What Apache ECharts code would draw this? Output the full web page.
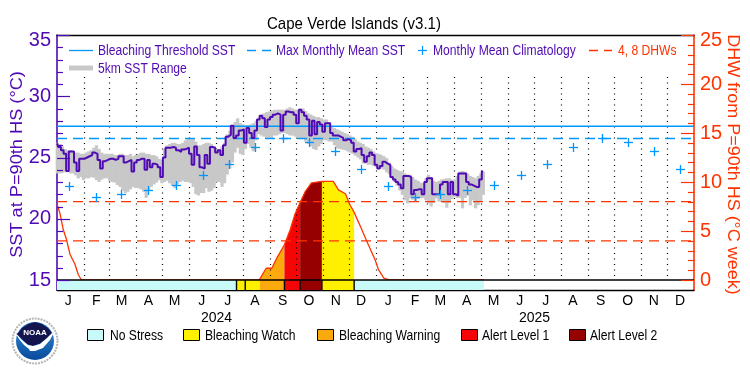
<!DOCTYPE html>
<html><head><meta charset="utf-8">
<style>html,body{margin:0;padding:0;background:#fff}#c{width:750px;height:375px}</style>
<script src="https://cdn.jsdelivr.net/npm/echarts@6/dist/echarts.min.js"></script>
</head><body><div id="c"></div>
<script>
var FONT = '"Liberation Sans",sans-serif';
var PURPLE='#4f0ab4', BLUE='#0096ff', RED='#ff3300', GREY='#c8c8c8';
var titleText='Cape Verde Islands (v3.1)';
var leftTitle='SST at P=90th HS (°C)', rightTitle='DHW from P=90th HS (°C week)';
var monthLetters=['J','F','M','A','M','J','J','A','S','O','N','D','J','F','M','A','M','J','J','A','S','O','N','D'];
var monthMidDays=[13,45,74,105,135,166,196,227,259,289,320,349,380,411,440,470,501,531,561,592,624,655,685,715];
var monthStartDays=[31,60,91,121,152,182,213,244,274,305,335,366,397,425,456,486,517,547,578,609,639,670,700];
var yearLabels=['2024','2025'], yearDays=[183,548];
var sstTicks=[15,20,25,30,35], dhwTicks=[0,5,10,15,20,25];
var sstMinor=[16,17,18,19,21,22,23,24,26,27,28,29,31,32,33,34];
var dhwMinor=[1,2,3,4,6,7,8,9,11,12,13,14,16,17,18,19,21,22,23,24];
var SST_STEP_DAYS=3;
var sstValues=[26.15,25.85,25.6,25.3,23.9,25.5,25.5,24.6,23.9,24.9,24.9,25.0,25.1,25.2,25.4,25.3,24.8,24.1,24.7,24.8,24.9,24.9,24.8,24.9,25.1,25.1,24.6,24.7,24.8,23.85,24.6,24.8,24.9,24.9,24.0,24.8,24.2,24.5,24.4,24.2,23.4,25.0,25.8,25.8,25.85,25.8,25.6,25.45,25.65,25.7,25.8,25.3,24.4,25.9,25.2,24.2,24.1,25.2,24.5,25.85,25.8,25.4,25.6,25.2,26.0,26.7,26.85,27.6,26.6,26.8,27.2,27.3,26.2,27.4,27.0,26.6,27.2,28.1,28.4,28.2,27.5,28.1,28.3,28.5,28.6,28.5,27.2,28.5,28.75,28.7,28.7,28.5,27.8,28.9,28.7,28.4,28.1,26.8,28.0,26.9,27.9,27.7,27.1,27.8,27.8,27.0,26.8,26.8,26.7,26.6,26.4,26.5,26.4,26.2,25.5,25.7,25.75,25.2,24.65,25.1,25.4,25.2,24.4,24.1,24.3,24.65,24.5,24.4,23.4,23.2,23.0,22.8,22.5,23.5,23.5,23.4,22.0,22.35,22.4,22.4,22.0,23.0,23.3,23.3,22.0,22.0,22.0,22.8,23.0,23.0,22.0,23.0,22.0,21.9,23.7,23.7,23.7,23.0,22.8,22.7,22.6,22.6,23.2,23.85];
var rangeHigh=[26.2,26.1,25.9,25.7,25.6,25.6,25.5,25.4,25.4,25.3,25.3,25.4,25.5,25.6,25.8,26.0,25.7,25.4,25.3,25.3,25.3,25.3,25.2,25.2,25.3,25.3,25.2,25.2,25.3,25.1,25.2,25.3,25.4,25.4,25.3,25.3,25.2,25.2,25.1,24.9,24.8,25.7,26.0,26.1,26.2,26.2,26.1,26.1,26.2,26.4,26.5,26.5,26.56,26.3,26.0,26.0,26.1,26.2,26.2,26.1,25.9,25.7,25.7,25.9,26.2,26.9,27.2,27.5,27.9,28.2,27.8,27.7,27.6,27.65,27.7,27.8,28.0,28.2,28.5,28.6,28.7,28.75,28.8,28.9,28.9,28.9,28.9,28.9,29.0,29.1,29.0,28.9,28.9,29.0,29.0,28.8,28.6,28.5,28.4,28.3,28.3,28.2,28.1,28.1,27.9,27.5,27.4,27.3,27.2,27.1,27.0,26.9,26.8,26.7,26.5,26.3,26.2,26.1,25.9,25.8,25.7,25.5,25.35,25.3,25.2,25.1,24.95,24.6,24.3,24.1,24.0,23.9,23.85,23.7,23.6,23.6,23.4,23.2,23.1,22.95,22.9,23.3,23.6,23.4,23.1,23.0,23.1,23.2,23.25,23.3,23.3,23.2,23.2,23.5,23.85,23.9,23.85,23.7,23.5,23.4,23.3,23.5,23.7,23.85];
var rangeLow=[23.7,23.7,23.75,23.8,23.85,23.7,23.7,23.55,23.3,23.4,23.15,23.3,23.3,23.4,23.35,23.15,23.0,23.2,23.3,23.3,23.1,23.0,22.95,22.75,22.6,22.3,22.1,22.2,22.4,22.6,22.5,22.5,22.4,22.2,21.7,22.3,22.6,22.8,22.95,23.15,22.9,23.0,23.1,22.9,22.7,22.5,22.8,23.0,23.1,23.0,23.0,22.9,22.6,22.0,21.9,22.1,22.1,22.5,22.2,22.3,22.5,23.0,23.0,22.6,22.9,23.6,24.1,24.6,25.4,25.8,25.3,25.2,25.7,26.1,25.8,25.5,26.4,26.9,26.8,26.7,26.6,26.6,26.6,26.8,26.8,26.9,27.0,27.0,26.9,26.8,26.8,26.7,26.6,26.6,26.5,26.3,26.1,25.9,25.7,25.6,25.9,26.1,26.4,26.4,26.3,26.3,26.0,25.75,25.7,25.65,25.6,25.5,25.4,25.3,25.15,25.0,24.85,24.5,24.5,24.4,24.4,24.3,24.2,24.1,24.1,24.0,23.8,23.65,23.3,23.0,22.7,22.3,21.95,21.5,21.25,21.66,21.55,21.4,21.6,21.66,21.7,21.5,21.26,21.0,21.3,21.66,21.4,21.4,21.3,20.9,21.3,21.6,21.8,21.7,21.7,20.85,21.7,21.9,21.1,21.5,20.85,21.1,21.4,21.95];
var climDays=[14,45,74,105,136,167,197,227,259,289,319,349,380,411,440,470,501,532,562,592,625,655,685,715];
var climValues=[22.65,21.8,22.0,22.35,22.73,23.55,24.44,25.86,26.56,26.3,25.56,24.1,22.65,21.8,22.0,22.35,22.73,23.55,24.44,25.86,26.56,26.3,25.56,24.1];
var bleachingThreshold=27.55, maxMonthlyMean=26.55, dhwLevels=[4,8];
var dhwDays=[0,3.4,7.3,11,15,20.6,24.5,28,232,233,240,246.5,252,261,267.5,273,279,285,292,304,317,323,331,336,341,350,355.5,365,369,375,382,490];
var dhwValues=[7.75,6.8,5.1,4.1,2.6,1.6,0.54,0,0,0.2,1.2,1.2,2.2,3.6,5.1,6.7,7.9,9.05,9.9,10.07,10.07,9.2,8.8,7.7,6.9,5.1,3.95,2.07,1.05,0.2,0,0];
var stressStart=[0,206,216,233,261,279,304,341];
var stressEnd=[206,216,233,261,279,304,341,490];
var stressLevel=[0,1,1,2,3,4,1,0];
var stressDividers=[206,216,261,279,304,341];
var levelNames=['No Stress','Bleaching Watch','Bleaching Warning','Alert Level 1','Alert Level 2'];
var levelColors=['#c8fafa','#fff000','#fba90d','#f50505','#960000'];
var areaSpans=[[233,261,2],[261,279,3],[279,304,4],[304,341,1]];
var X_MAX=731, SST_MIN=14.184, DHW_MIN=-1.02;

function zip(a,b){return a.map(function(v,i){return [v,b[i]];});}
var sstData=sstValues.map(function(v,i){return [i*SST_STEP_DAYS,v];});
var rangeData=rangeHigh.map(function(h,i){return [i*SST_STEP_DAYS,rangeLow[i],h];});
var dhwData=zip(dhwDays,dhwValues);

function hline(v,color,width,dash,yi,z){return {type:'line',xAxisIndex:0,yAxisIndex:yi,data:[[0,v],[X_MAX,v]],symbol:'none',silent:true,z:z,lineStyle:{color:color,width:width,type:dash}};}
function ticks(vals,yi,xEnd,dir,color,len){return {type:'custom',xAxisIndex:0,yAxisIndex:yi,z:10,silent:true,data:vals.map(function(v){return [xEnd,v];}),
  renderItem:function(p,api){var c=api.coord([api.value(0),api.value(1)]);var y=Math.round(c[1])+0.5;
    return {type:'line',shape:{x1:c[0],y1:y,x2:c[0]+dir*len,y2:y},style:{stroke:color,lineWidth:1.2}};},encode:{x:0,y:1},clip:false};}
var series=[];
areaSpans.forEach(function(s){
  series.push({type:'line',xAxisIndex:0,yAxisIndex:1,z:1,symbol:'none',silent:true,lineStyle:{width:0},
    areaStyle:{color:levelColors[s[2]],opacity:1},
    data:dhwData.filter(function(d){return d[0]>=s[0]&&d[0]<=s[1];})});
});
series.push({type:'custom',xAxisIndex:0,yAxisIndex:0,z:2,silent:true,data:monthStartDays.map(function(d){return [d];}),
  renderItem:function(p,api){var x=Math.round(api.coord([api.value(0),15])[0])+0.5;
    return {type:'line',shape:{x1:x,y1:api.coord([0,31.57])[1],x2:x,y2:api.coord([0,15])[1]},style:{stroke:'#000',lineWidth:1.2,lineDash:[1,4.5]}};},
  encode:{x:0}});
series.push({type:'custom',xAxisIndex:0,yAxisIndex:0,z:3,silent:true,data:rangeData,
  renderItem:function(p,api){var d=api.value(0);
    var a=api.coord([d-1.5,api.value(2)]),b=api.coord([d+1.5,api.value(1)]);
    return {type:'rect',shape:{x:a[0],y:a[1],width:b[0]-a[0]+0.6,height:b[1]-a[1]},style:{fill:GREY}};},
  encode:{x:0,y:[1,2]}});
series.push(hline(bleachingThreshold,BLUE,1.6,'solid',0,4));
series.push(hline(maxMonthlyMean,BLUE,1.3,[10,6],0,4));
dhwLevels.forEach(function(v){series.push(hline(v,RED,1.3,[10,6],1,4));});
series.push({type:'line',xAxisIndex:0,yAxisIndex:1,z:5,symbol:'none',silent:true,data:dhwData,lineStyle:{color:RED,width:1.3}});
series.push({type:'line',xAxisIndex:0,yAxisIndex:0,z:6,symbol:'none',silent:true,step:'middle',data:sstData,lineStyle:{color:PURPLE,width:2}});
series.push({type:'custom',xAxisIndex:0,yAxisIndex:0,z:7,silent:true,data:zip(climDays,climValues),
  renderItem:function(p,api){var c=api.coord([api.value(0),api.value(1)]);var x=Math.round(c[0])+0.5,y=Math.round(c[1])+0.5,r=4.5;
    return {type:'group',children:[
      {type:'line',shape:{x1:x-r,y1:y,x2:x+r,y2:y},style:{stroke:BLUE,lineWidth:1.3}},
      {type:'line',shape:{x1:x,y1:y-r,x2:x,y2:y+r},style:{stroke:BLUE,lineWidth:1.3}}]};},
  encode:{x:0,y:1}});
series.push({type:'custom',xAxisIndex:0,yAxisIndex:0,z:8,silent:true,
  data:stressStart.map(function(s,i){return [s,stressEnd[i],stressLevel[i]];}),
  renderItem:function(p,api){var a=api.coord([api.value(0),15]),b=api.coord([api.value(1),SST_MIN]);
    return {type:'rect',shape:{x:a[0],y:a[1],width:b[0]-a[0],height:b[1]-a[1]},style:{fill:levelColors[api.value(2)]}};},
  encode:{x:[0,1]}});
series.push(hline(15,'#000',1.4,'solid',0,9));
series.push({type:'custom',xAxisIndex:0,yAxisIndex:0,z:9,silent:true,data:stressDividers.map(function(d){return [d];}),
  renderItem:function(p,api){var a=api.coord([api.value(0),15]),b=api.coord([api.value(0),SST_MIN]);
    return {type:'line',shape:{x1:a[0],y1:a[1],x2:b[0],y2:b[1]},style:{stroke:'#000',lineWidth:1.4}};},
  encode:{x:0}});
series.push(ticks(sstMinor,0,0,1,PURPLE,6));
series.push(ticks(sstTicks,0,0,1,PURPLE,13));
series.push(ticks(dhwMinor,1,X_MAX,-1,RED,6));
series.push(ticks(dhwTicks,1,X_MAX,-1,RED,13));

function txt(x,y,s,c,size,sx,rot,align){return {type:'text',x:x,y:y,z:20,scaleX:sx||0.865,scaleY:1,rotation:rot||0,originX:0,originY:0,
  style:{text:s,fill:c,font:(size||14)+'px '+FONT,textAlign:align||'left',textVerticalAlign:'middle'}};}
function seg(x1,x2,y,c,w,dash){return {type:'line',z:20,shape:{x1:x1,y1:y,x2:x2,y2:y},style:{stroke:c,lineWidth:w,lineDash:dash||null}};}
var gfx=[
  txt(267,24,titleText,'#000',17,0.885),
  txt(17,164.5,leftTitle,PURPLE,17,1.07,Math.PI/2,'center'),
  txt(733,164.5,rightTitle,RED,17,1.058,-Math.PI/2,'center'),
  seg(69,93,50.5,BLUE,1.3), txt(98,51,'Bleaching Threshold SST',PURPLE),
  seg(247,271,50.5,BLUE,1.3,[9,6]), txt(276,51,'Max Monthly Mean SST',PURPLE),
  seg(418,427,50.5,BLUE,1.2), {type:'line',z:20,shape:{x1:422.5,y1:46,x2:422.5,y2:55},style:{stroke:BLUE,lineWidth:1.2}},
  txt(433,51,'Monthly Mean Climatology',PURPLE),
  seg(589,612,50.5,RED,1.3,[9,6]), txt(618,51,'4, 8 DHWs',RED),
  seg(69,93,68,GREY,5), txt(98,69,'5km SST Range',PURPLE)
];
var boxX=[87,183,317,461,569], labX=[110,205,339,482,590];
levelNames.forEach(function(n,i){
  gfx.push({type:'rect',z:20,shape:{x:boxX[i]+0.5,y:329.5,width:16,height:11},style:{fill:levelColors[i],stroke:'#000',lineWidth:1}});
  gfx.push(txt(labX[i],336,n,'#000'));
});
// NOAA emblem
gfx.push({type:'group',x:35,y:341,z:20,children:[
  {type:'circle',shape:{cx:0,cy:0,r:22.5},style:{fill:'#fff',stroke:'#b5b5b5',lineWidth:2,lineDash:[2,1]}},
  {type:'circle',shape:{cx:0,cy:0,r:19},style:{fill:new echarts.graphic.LinearGradient(0,0,0,1,[{offset:0,color:'#2f8fd8'},{offset:1,color:'#0a4a9c'}])}},
  {type:'polygon',shape:{points:[[-17,-8],[-13,-13],[-7,-17],[0,-19],[7,-17],[13,-13],[17,-8],[19,-9],[10,-1],[4,3],[-2,5],[-8,3],[-13,-2],[-19,-7]]},style:{fill:'#14144f'}},
  {type:'polygon',shape:{points:[[-20,-9],[-13,-1],[-7,4],[-2,5],[5,3],[12,-3],[20,-11],[15,-1],[8,7],[0,10],[-5,10],[-6,8],[-11,4],[-16,-2]]},style:{fill:'#fff'}},
  {type:'text',x:0,y:-8,style:{text:'NOAA',fill:'#fff',font:'bold 8px "Liberation Sans"',textAlign:'center',textVerticalAlign:'middle'}}
]});

function tickLabel(maxV){return function(v){return v===maxV?'{t|'+v+'}':String(v);};}
var noTick={show:false}, noLine={show:false};
var chart=echarts.init(document.getElementById('c'),null,{renderer:'canvas'});
chart.setOption({
  animation:false,backgroundColor:'#fff',
  textStyle:{fontFamily:FONT},
  grid:{left:57,right:56,top:35,bottom:85},
  xAxis:[
    {type:'value',min:0,max:X_MAX,position:'bottom',splitLine:{show:false},axisTick:noTick,
     axisLine:{show:true,onZero:false,lineStyle:{color:'#000',width:1.4}},
     axisLabel:{customValues:monthMidDays,margin:4,color:'#000',fontFamily:FONT,fontSize:14,
       formatter:function(v){return monthLetters[monthMidDays.indexOf(v)]||'';}}},
    {type:'value',min:0,max:X_MAX,position:'top',splitLine:{show:false},axisTick:noTick,axisLabel:{show:false},
     axisLine:{show:true,onZero:false,lineStyle:{color:'#000',width:1.4}}},
    {type:'value',min:0,max:X_MAX,position:'bottom',splitLine:{show:false},axisTick:noTick,axisLine:noLine,
     axisLabel:{customValues:yearDays,margin:21,color:'#000',fontFamily:FONT,fontSize:14,
       formatter:function(v){return yearLabels[yearDays.indexOf(v)]||'';}}}
  ],
  yAxis:[
    {type:'value',min:SST_MIN,max:35,position:'left',splitLine:{show:false},
     axisLine:{show:true,onZero:false,lineStyle:{color:PURPLE,width:1.6}},axisTick:noTick,
     axisLabel:{customValues:sstTicks,margin:6,color:PURPLE,fontFamily:FONT,fontSize:20,
       formatter:tickLabel(35),rich:{t:{padding:[11,0,0,0],fontFamily:FONT,fontSize:20,color:PURPLE}}}},
    {type:'value',min:DHW_MIN,max:25,position:'right',splitLine:{show:false},
     axisLine:{show:true,onZero:false,lineStyle:{color:RED,width:1.6}},axisTick:noTick,
     axisLabel:{customValues:dhwTicks,margin:6,color:RED,fontFamily:FONT,fontSize:20,
       formatter:tickLabel(25),rich:{t:{padding:[11,0,0,0],fontFamily:FONT,fontSize:20,color:RED}}}}
  ],
  series:series,
  graphic:{elements:gfx}
});
</script></body></html>
